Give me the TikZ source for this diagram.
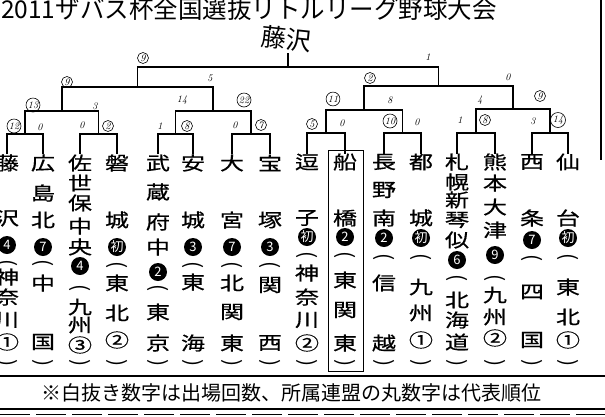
\documentclass[tikz,border=0pt]{standalone}
\usepackage{fontspec}
\newfontfamily\jpfont{Noto Sans CJK JP}
\newfontfamily\teamfont[FakeStretch=1.3, FakeBold=0.6]{Noto Sans CJK JP}
\usetikzlibrary{calc}

% columna de un equipo: indice, x, letras (y/letra), y del numero, numero, y del parentesis
\newcommand{\equipo}[6]{%
  \foreach \y/\c in {#3} \node[letra] (e#1-\y) at (#2,\y) {\c};
  \node[kaisu] (k#1) at (#2,#4) {#5};
  \node[kakko] (pa#1) at (#2,#6) {(};
  \node[kakko] (pc#1) at (#2,363) {)};
}

\begin{document}
\begin{tikzpicture}[
    x=1pt, y=-1pt,
    % lineas del cuadro
    llave/.style={line width=1.2pt},
    ganador/.style={line width=1.9pt},
    % texto de los equipos
    letra/.style={font=\teamfont\fontsize{18.5}{18.5}\selectfont, inner sep=0pt},
    % parentesis en vertical
    kakko/.style={font=\jpfont\fontsize{21}{21}\selectfont, inner sep=0pt, rotate=-90},
    % numero blanco sobre circulo negro
    kaisu/.style={circle, fill=black, text=white, inner sep=0pt, minimum size=18pt,
        font=\jpfont\fontsize{13}{13}\selectfont},
    % resultados escritos a mano
    nota/.style={font=\itshape\fontsize{10}{10}\selectfont, inner sep=0pt},
    notac/.style={nota, circle, draw, line width=0.6pt, inner sep=0.6pt, minimum size=11pt}
]
    \useasboundingbox (0,0) rectangle (605,416);

    % --- 1. TITULO ---
    \node[anchor=base west, inner sep=0pt, font=\jpfont\fontsize{24.5}{24.5}\selectfont]
        (titulo) at (1,18) {2011ザバス杯全国選抜リトルリーグ野球大会};
    \node[font=\jpfont\fontsize{25}{25}\selectfont, inner sep=0pt, rotate=-6]
        (campeon) at (286,39) {藤沢};
    \draw[line width=1.5pt] (601,0) -- (601,160);

    % --- 2. EL CUADRO ---
    \foreach \i/\x in {1/7,2/43,3/80,4/117,5/158,6/193,7/232,8/270,
                       9/307,10/345,11/384,12/421,13/457,14/495,15/532,16/568}
        \coordinate (t\i) at (\x,154);

    % primera ronda
    \coordinate (a1) at (25,134);
    \coordinate (a2) at (98.5,134);
    \coordinate (a3) at (175.5,134);
    \coordinate (a4) at (251,134);
    \coordinate (a5) at (326,133);
    \coordinate (a6) at (402.5,133);
    \coordinate (a7) at (476,133);
    \coordinate (a8) at (550,133);
    % segunda ronda
    \coordinate (b1) at (62,111);
    \coordinate (b2) at (213,111);
    \coordinate (b3) at (364,110);
    \coordinate (b4) at (513,109);
    % semifinal y final
    \coordinate (c1) at (137.5,87);
    \coordinate (c2) at (438.5,86);
    \coordinate (f) at (288,67);
    \coordinate (cima) at (288,53);

    \foreach \i/\j/\m in {1/2/a1,3/4/a2,5/6/a3,7/8/a4,9/10/a5,11/12/a6,13/14/a7,15/16/a8}
        \draw[llave] (t\i) |- (\m) -| (t\j);
    \draw[llave] (a1) |- (b1) -| (a2);
    \draw[llave] (a3) |- (b2) -| (a4);
    \draw[llave] (a5) |- (b3) -| (a6);
    \draw[llave] (a7) |- (b4) -| (a8);
    \draw[llave] (b1) |- (c1) -| (b2);
    \draw[llave] (b3) |- (c2) -| (b4);
    \draw[llave] (c1) |- (f) -| (c2);
    % camino del campeon
    \draw[ganador] (t1) |- (a1) |- (b1) |- (c1) |- (f) -- (cima);

    % --- 3. RESULTADOS A MANO ---
    \foreach \x/\y/\n in {40/127/0, 82/125/0, 160/126/1, 235/125/0, 342/123/0, 417/122/0,
                          460/120/1, 533/121/3, 95/106/3, 182/100/14, 390/100/8,
                          480/100/4, 210/78/5, 508/77/0, 428/57/1}
        \node[nota] (n-\x-\y) at (\x,\y) {\n};
    \foreach \x/\y/\n in {14/126/12, 108/126/2, 187/126/8, 261/125/7, 312/124/5,
                          390/121/10, 485/120/8, 558/120/14, 33/105/13, 244/100/22,
                          333/99/11, 540/96/9, 67/82/9, 370/78/2, 143/58/9}
        \node[notac] (w-\x-\y) at (\x,\y) {\n};

    % --- 4. LOS EQUIPOS ---
    \equipo{1}{7}{163/藤,218/沢,277/神,297/奈,320/川,342/①}{245}{4}{263}
    \equipo{2}{43}{163/広,193/島,220/北,283/中,342/国}{247}{7}{263}
    \equipo{3}{80}{163/佐,183/世,203/保,226/中,247/央,307/九,325/州,345/③}{266}{4}{288}
    \equipo{4}{117}{163/磐,220/城,283/東,313/北,340/②}{247}{初}{265}
    \equipo{5}{158}{163/武,192/蔵,222/府,247/中,312/東,343/京}{272}{2}{288}
    \equipo{6}{193}{163/安,220/城,282/東,343/海}{247}{3}{265}
    \equipo{7}{232}{163/大,220/宮,283/北,312/関,343/東}{247}{7}{265}
    \equipo{8}{270}{163/宝,220/塚,285/関,343/西}{247}{3}{265}
    \equipo{9}{307}{162/逗,218/子,273/神,297/奈,320/川,343/②}{237}{初}{255}
    \equipo{10}{345}{162/船,218/橋,280/東,310/関,343/東}{237}{2}{255}
    \equipo{11}{384}{162/長,190/野,218/南,283/信,343/越}{238}{2}{257}
    \equipo{12}{421}{162/都,218/城,287/九,313/州,340/①}{238}{初}{257}
    \equipo{13}{457}{162/札,182/幌,200/新,220/琴,240/似,300/北,320/海,342/道}{260}{6}{278}
    \equipo{14}{495}{162/熊,183/本,207/大,230/津,295/九,317/州,338/②}{255}{9}{278}
    \equipo{15}{532}{162/西,218/条,292/四,340/国}{240}{7}{258}
    \equipo{16}{568}{162/仙,218/台,287/東,317/北,340/①}{238}{初}{257}

    % recuadro de Funabashi
    \draw[line width=1pt] (328,150) rectangle (363,371);

    % --- 5. NOTA AL PIE ---
    \draw[line width=1.4pt] (0,376) -- (605,376);
    \node[font=\jpfont\fontsize{20}{20}\selectfont, inner sep=0pt]
        (pie) at (291,393) {※白抜き数字は出場回数、所属連盟の丸数字は代表順位};
    \draw[line width=1.2pt] (0,409) -- (605,409);
    \draw[line width=0.6pt, dash pattern=on 30pt off 6pt] (0,414) -- (605,414);
\end{tikzpicture}
\end{document}
